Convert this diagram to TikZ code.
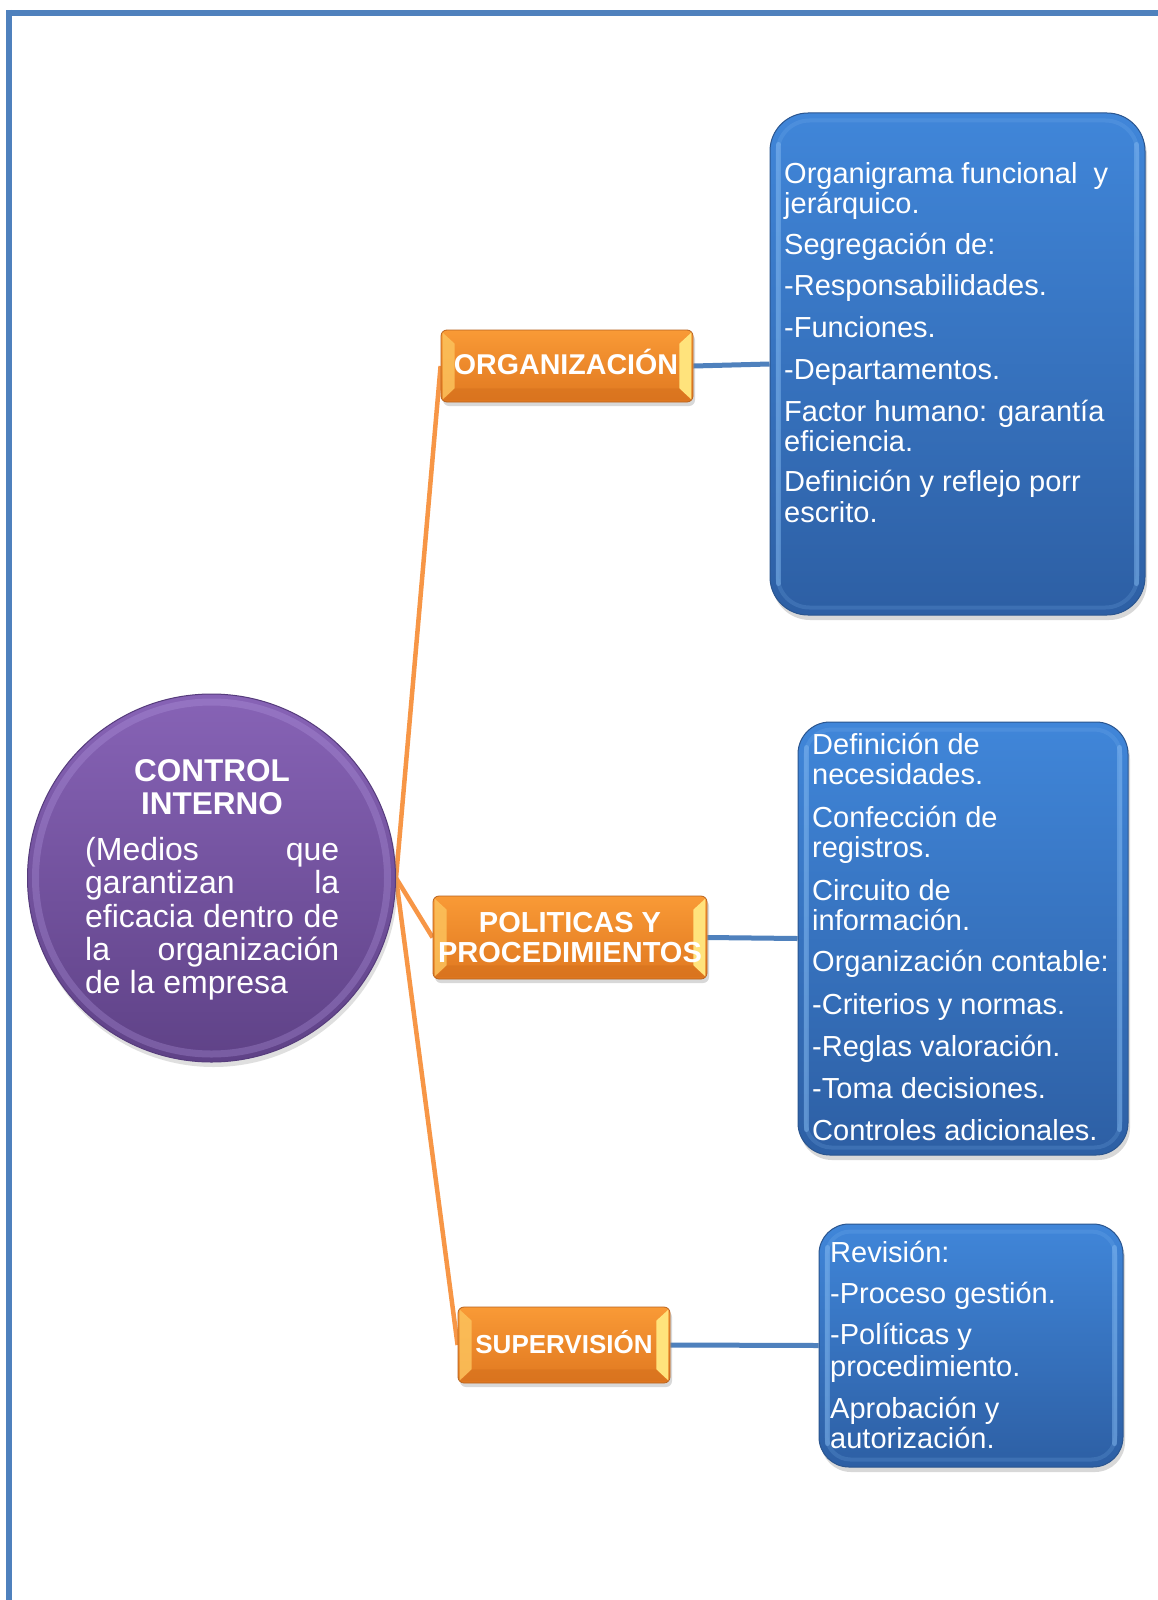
\documentclass[tikz,border=0pt]{standalone}
\usepackage{fontspec}
\setmainfont{Liberation Sans}
\usetikzlibrary{shadows,calc}

\definecolor{frameblue}{HTML}{4F81BD}
\definecolor{linkorange}{HTML}{F79646}
\definecolor{linkblue}{HTML}{4F81BD}
\definecolor{purpletop}{HTML}{8763B6}
\definecolor{purplebot}{HTML}{5F4287}
\definecolor{purpleedge}{HTML}{563C7C}
\definecolor{purplerim}{HTML}{B59BE2}
\definecolor{orangetop}{HTML}{F99A36}
\definecolor{orangebot}{HTML}{E07820}
\definecolor{orangeedge}{HTML}{B8631E}
\definecolor{orangelight}{HTML}{FCC25C}
\definecolor{orangeyellow}{HTML}{FFE37C}
\definecolor{orangedark}{HTML}{D26E1C}
\definecolor{bluetop}{HTML}{4086D9}
\definecolor{bluebot}{HTML}{2D5FA4}
\definecolor{blueedge}{HTML}{2A558F}
\definecolor{bluerim}{HTML}{86BCF3}

\pgfdeclarelayer{bg}
\pgfsetlayers{bg,main}

\tikzset{
  hub/.style={circle, draw=purpleedge, line width=1pt, top color=purpletop,
    bottom color=purplebot, minimum size=368pt, inner sep=0pt,
    drop shadow={shadow xshift=2pt, shadow yshift=-5pt, opacity=0.25}},
  branch/.style={rectangle, rounded corners=6pt, draw=orangeedge, line width=0.8pt,
    top color=orangetop, bottom color=orangebot, inner sep=0pt,
    drop shadow={shadow xshift=2pt, shadow yshift=-4pt, opacity=0.3}},
  detail/.style={rectangle, draw=blueedge, line width=1pt, top color=bluetop,
    bottom color=bluebot, inner sep=0pt,
    drop shadow={shadow xshift=2pt, shadow yshift=-5pt, opacity=0.3}},
  branchtxt/.style={text=white, font=\bfseries, anchor=base, inner sep=0pt, align=center},
  itemtxt/.style={text=white, anchor=base west, inner sep=0pt,
    font=\fontsize{29}{30}\selectfont},
  hubtxt/.style={text=white, anchor=base west, inner sep=0pt,
    font=\fontsize{32}{33}\selectfont},
  orangelink/.style={draw=linkorange, line width=4.5pt},
  bluelink/.style={draw=linkblue, line width=5pt},
}

% bevel bands inside an orange label box
\newcommand\orangebevel[1]{%
  \fill[orangelight, opacity=0.85]
    ($(#1.north west)+(2,3)$) -- ($(#1.north west)+(14,14)$) --
    ($(#1.south west)+(14,-14)$) -- ($(#1.south west)+(2,-3)$) -- cycle;
  \fill[orangeyellow]
    ($(#1.north east)+(-2,3)$) -- ($(#1.north east)+(-14,14)$) --
    ($(#1.south east)+(-14,-14)$) -- ($(#1.south east)+(-2,-3)$) -- cycle;
  \fill[orangedark, opacity=0.45]
    ($(#1.south west)+(3,-2)$) -- ($(#1.south east)+(-3,-2)$) --
    ($(#1.south east)+(-14,-14)$) -- ($(#1.south west)+(14,-14)$) -- cycle;
}
% soft side highlights of a blue detail box
\newcommand\bluerim[2]{%
  \draw[bluerim, opacity=0.45, line width=5pt, line cap=round]
    ($(#1.north west)+(9,#2)$) -- ($(#1.south west)+(9,-#2)$);
  \draw[bluerim, opacity=0.45, line width=5pt, line cap=round]
    ($(#1.north east)+(-9,#2)$) -- ($(#1.south east)+(-9,-#2)$);
  \draw[bluerim, opacity=0.18, line width=4pt, rounded corners=#2]
    ($(#1.north west)+(8,8)$) rectangle ($(#1.south east)+(-8,-8)$);
}

\begin{document}
\begin{tikzpicture}[x=1pt,y=-1pt]
\useasboundingbox (0,0) rectangle (1158,1600);

% central circle
\node[hub] (ctrl) at (211.5,878) {};
\draw[purplerim, opacity=0.3, line width=7pt] (ctrl.center) circle (176);

% orange branch boxes
\node[branch, minimum width=252pt, minimum height=72pt] (org) at (567,366) {};
\node[branch, minimum width=274pt, minimum height=83pt] (pol) at (570,937.5) {};
\node[branch, minimum width=212pt, minimum height=76pt] (sup) at (564,1345) {};
\orangebevel{org}
\orangebevel{pol}
\orangebevel{sup}

% blue detail boxes
\node[detail, rounded corners=38pt, minimum width=375pt, minimum height=502pt] (d1) at (957.5,364) {};
\node[detail, rounded corners=32pt, minimum width=330pt, minimum height=433pt] (d2) at (963,938.5) {};
\node[detail, rounded corners=30pt, minimum width=304pt, minimum height=243pt] (d3) at (971,1345.5) {};
\bluerim{d1}{32}
\bluerim{d2}{26}
\bluerim{d3}{24}

% frame and connectors, behind the shapes
\begin{pgfonlayer}{bg}
  \fill[white] (0,0) rectangle (1158,1600);
  \draw[frameblue, line width=6pt] (6,13) -- (1158,13);
  \draw[frameblue, line width=6pt] (9,10) -- (9,1600);
  \draw[orangelink] (ctrl.east) -- (org.west);
  \draw[orangelink] (ctrl.east) -- (pol.west);
  \draw[orangelink] (ctrl.east) -- (sup.west);
  \draw[bluelink] (org.east) -- (d1.west);
  \draw[bluelink] (pol.east) -- (d2.west);
  \draw[bluelink] (sup.east) -- (d3.west);
\end{pgfonlayer}

% circle text
\node[branchtxt, font=\bfseries\fontsize{31.5}{33}\selectfont] (t1) at (212,781) {CONTROL};
\node[branchtxt, font=\bfseries\fontsize{31.5}{33}\selectfont] (t2) at (212,814) {INTERNO};
\node[hubtxt] (h1) at (85,860) {\makebox[254pt][s]{(Medios que}};
\node[hubtxt] (h2) at (85,893) {\makebox[254pt][s]{garantizan la}};
\node[hubtxt] (h3) at (85,927) {\makebox[254pt][s]{eficacia dentro de}};
\node[hubtxt] (h4) at (85,960) {\makebox[254pt][s]{la organización}};
\node[hubtxt] (h5) at (85,993) {de la empresa};

% branch labels
\node[branchtxt, font=\bfseries\fontsize{28.6}{30}\selectfont] (l1) at (566,374) {ORGANIZACIÓN};
\node[branchtxt, font=\bfseries\fontsize{29}{30}\selectfont] (l2) at (570,932) {POLITICAS Y};
\node[branchtxt, font=\bfseries\fontsize{29}{30}\selectfont] (l3) at (570,962) {PROCEDIMIENTOS};
\node[branchtxt, font=\bfseries\fontsize{26}{28}\selectfont] (l4) at (564,1353) {SUPERVISIÓN};

% detail lists
\foreach \yy/\txt [count=\i] in {
  183/Organigrama funcional\ \ y,
  213/jerárquico.,
  254/Segregación de:,
  295/-Responsabilidades.,
  337/-Funciones.,
  379/-Departamentos.,
  421/Factor humano: garantía,
  451/eficiencia.,
  491/Definición y reflejo porr,
  522/escrito.}
  \node[itemtxt] (a\i) at (784,\yy) {\txt};

\foreach \yy/\txt [count=\i] in {
  754/Definición de,
  784/necesidades.,
  827/Confección de,
  857/registros.,
  900/Circuito de,
  930/información.,
  971/Organización contable:,
  1014/-Criterios y normas.,
  1056/-Reglas valoración.,
  1098/-Toma decisiones.,
  1140/Controles adicionales.}
  \node[itemtxt] (b\i) at (812,\yy) {\txt};

\foreach \yy/\txt [count=\i] in {
  1262/Revisión:,
  1303/-Proceso gestión.,
  1344/-Políticas y,
  1376/procedimiento.,
  1418/Aprobación y,
  1448/autorización.}
  \node[itemtxt] (c\i) at (830,\yy) {\txt};
\end{tikzpicture}
\end{document}
